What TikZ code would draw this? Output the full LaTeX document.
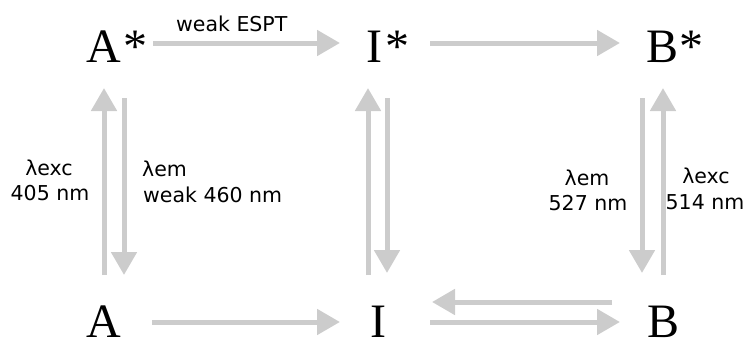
\documentclass[tikz,border=0pt]{standalone}
\usepackage{fontspec}
\setmainfont{Liberation Serif}
\newfontfamily\labelfont{DejaVu Sans}
\usetikzlibrary{arrows.meta}
\definecolor{arrowgray}{RGB}{204,204,204}
\tikzset{
  state/.style={font=\fontsize{48}{48}\selectfont, inner sep=0pt, anchor=base west},
  lbl/.style={font=\labelfont\fontsize{20.5}{24}\selectfont, inner sep=0pt},
  arr/.style={draw=arrowgray, line width=5pt, -{Triangle[length=23pt,width=25pt]}}
}
\begin{document}
\begin{tikzpicture}[x=1pt,y=-1pt]
\useasboundingbox (0,0) rectangle (747,340);
% states
\node[state] (As) at (86,62) {A\kern3pt*};
\node[state] (Is) at (366,62) {I\kern3pt*};
\node[state] (Bs) at (646,62) {B\kern1pt*};
\node[state] (A) at (86,337) {A};
\node[state] (I) at (370,337) {I};
\node[state] (B) at (647,337) {B};
% arrow end points
\coordinate (h1s) at (153,43); \coordinate (h1e) at (340,43);
\coordinate (h2s) at (430,43); \coordinate (h2e) at (620,43);
\coordinate (h3s) at (152,322); \coordinate (h3e) at (340,322);
\coordinate (h4s) at (430,322); \coordinate (h4e) at (620,322);
\coordinate (h5s) at (612,302); \coordinate (h5e) at (432,302);
\coordinate (v1s) at (104,275); \coordinate (v1e) at (104,88);
\coordinate (v2s) at (124,98);  \coordinate (v2e) at (124,275);
\coordinate (v3s) at (368,275); \coordinate (v3e) at (368,88);
\coordinate (v4s) at (387,98);  \coordinate (v4e) at (387,273);
\coordinate (v5s) at (642,98);  \coordinate (v5e) at (642,273);
\coordinate (v6s) at (663,275); \coordinate (v6e) at (663,88);
% arrows
\draw[arr] (h1s) -- (h1e);
\draw[arr] (h2s) -- (h2e);
\draw[arr] (h3s) -- (h3e);
\draw[arr] (h4s) -- (h4e);
\draw[arr] (h5s) -- (h5e);
\draw[arr] (v1s) -- (v1e);
\draw[arr] (v2s) -- (v2e);
\draw[arr] (v3s) -- (v3e);
\draw[arr] (v4s) -- (v4e);
\draw[arr] (v5s) -- (v5e);
\draw[arr] (v6s) -- (v6e);
% labels
\node[lbl, anchor=base west] (espt) at (176,31) {weak ESPT};
\node[lbl, anchor=base] (l1a) at (49,175) {λexc};
\node[lbl, anchor=base] (l1b) at (50,200) {405 nm};
\node[lbl, anchor=base west] (l2a) at (142,176) {λem};
\node[lbl, anchor=base west] (l2b) at (143,202) {weak 460 nm};
\node[lbl, anchor=base] (l3a) at (587,185) {λem};
\node[lbl, anchor=base] (l3b) at (588,210) {527 nm};
\node[lbl, anchor=base] (l4a) at (706,183) {λexc};
\node[lbl, anchor=base] (l4b) at (705,209) {514 nm};
\end{tikzpicture}
\end{document}
